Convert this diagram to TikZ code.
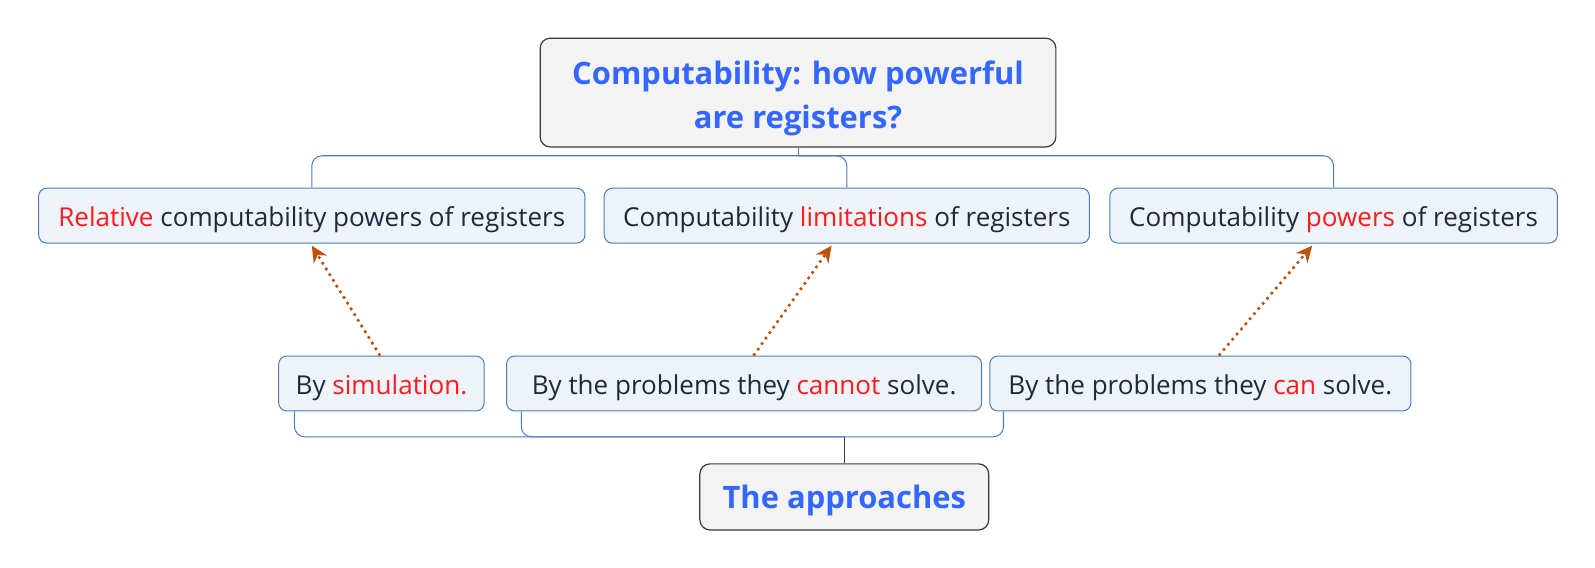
\documentclass[tikz,border=0pt]{standalone}
\usepackage{fontspec}
\setmainfont{Open Sans}
\usetikzlibrary{calc,arrows.meta}
\definecolor{titleblue}{HTML}{3366FF}
\definecolor{wordred}{HTML}{FF1A1A}
\definecolor{textdark}{HTML}{1C2B39}
\definecolor{subline}{HTML}{4A7EC4}
\definecolor{subfill}{HTML}{EEF3FA}
\definecolor{topline}{HTML}{3A3A3A}
\definecolor{topfill}{HTML}{F3F3F3}
\definecolor{linkbrown}{HTML}{C0500A}
\newcommand\redword[1]{\textcolor{wordred}{#1}}

\begin{document}
\begin{tikzpicture}[
    x=0.5pt,y=-0.5pt,
    topic/.style={%
      draw=topline,
      fill=topfill,
      rounded corners=5pt,
      line width=0.6pt,
      align=center,
      inner sep=0pt,
      text=titleblue,
      font=\bfseries\fontsize{15.2}{21.6}\selectfont,
    },
    sub/.style={%
      draw=subline,
      fill=subfill,
      rounded corners=4pt,
      line width=0.5pt,
      inner sep=0pt,
      minimum height=27pt,
      text height=13.6pt,
      text depth=3pt,
      text=textdark,
      font=\fontsize{12.8}{15}\selectfont,
    },
    tree/.style={%
      draw=subline,
      line width=0.5pt,
    },
    link/.style={%
      draw=linkbrown,
      line width=1.8pt,
      line cap=round,
      dash pattern=on 0pt off 3.3pt,
      -{Stealth[length=8pt,width=7.5pt]},
    },
  ]

    \useasboundingbox (0,0) rectangle (1568,558);

    \node [topic, minimum width=253.5pt, minimum height=53.5pt] (top) at (784.5,91)
      {\rule{0pt}{17pt}Computability: how powerful\\are registers?};
    \path (top) ++(-478,121) node [sub, minimum width=268.5pt] (A)
      {\redword{Relative} computability powers of registers};
    \path (top) ++(48,121) node [sub, minimum width=238.5pt] (B)
      {Computability \redword{limitations} of registers};
    \path (top) ++(526.5,121) node [sub, minimum width=220pt] (C)
      {Computability \redword{powers} of registers};
    \path (A) ++(68.5,165) node [sub, minimum width=101pt] (D)
      {By \redword{simulation.}};
    \path (B) ++(-101,165) node [sub, minimum width=233.5pt] (E)
      {By the problems they \redword{cannot} solve.};
    \path (C) ++(-131,165) node [sub, minimum width=207pt] (F)
      {By the problems they \redword{can} solve.};
    \path (E) ++(98.5,111.5) node [topic, minimum width=142pt, minimum height=32.5pt,
      text height=15.5pt, text depth=3.7pt] (G) {The approaches};

    % tree above
    \coordinate (topjoin) at ($(top.south)+(0,8)$);
    \draw [tree] (top.south) -- (topjoin);
    \draw [tree, rounded corners=5pt] (topjoin) -| (A.north);
    \draw [tree, rounded corners=5pt] (topjoin) -| (B.north);
    \draw [tree, rounded corners=5pt] (topjoin) -| (C.north);

    % tree below
    \coordinate (botjoin) at ($(G.north)+(0,-26)$);
    \draw [draw=topline, line width=0.5pt] (G.north) -- (botjoin);
    \draw [tree, rounded corners=5pt] (botjoin) -| ($(D.south west)+(16,0)$);
    \draw [tree, rounded corners=5pt] (botjoin) -| ($(E.south west)+(15,0)$);
    \draw [tree, rounded corners=5pt] (botjoin) -| ($(F.south west)+(14,0)$);

    % dotted links
    \draw [link] ($(D.north)+(-2,-1)$) -- ($(A.south)+(0,2)$);
    \draw [link] ($(E.north)+(10,-1)$) -- ($(B.south)+(-15,2)$);
    \draw [link] ($(F.north)+(19,-1)$) -- ($(C.south)+(-21,2)$);
\end{tikzpicture}
\end{document}
